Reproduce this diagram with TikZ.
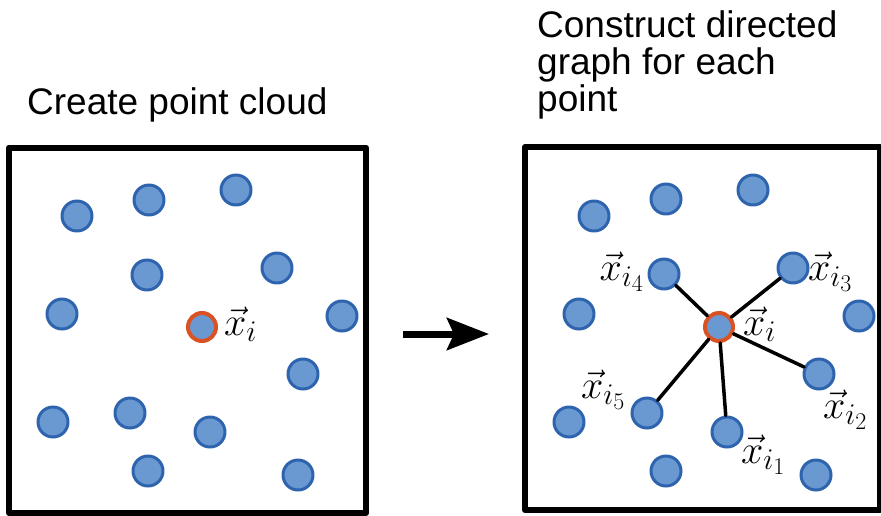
\RequirePackage{fix-cm}
\documentclass[tikz,border=0pt]{standalone}
\usepackage{fontspec}
\setmainfont{Liberation Sans}
\usetikzlibrary{arrows.meta}
\DeclareMathSizes{40}{40}{30}{24}
\definecolor{ptfill}{RGB}{106,153,210}
\definecolor{ptline}{RGB}{46,99,173}
\definecolor{ctrline}{RGB}{218,82,36}
\tikzset{
	pt/.style={circle,draw=ptline,fill=ptfill,line width=3pt,minimum size=30pt,inner sep=0pt},
	ctr/.style={pt,draw=ctrline,line width=4pt,minimum size=28pt},
	lbl/.style={font=\fontsize{40}{40}\selectfont,inner sep=0pt},
	ttl/.style={font=\fontsize{37}{37}\selectfont,inner sep=0pt,align=left,anchor=base west},
	frame/.style={line width=6pt},
	link/.style={line width=3.5pt}
}
\begin{document}
\begin{tikzpicture}[line cap=round,line join=round,x=1pt,y=-1pt]
	\useasboundingbox (0,0) rectangle (881,515); %khung hinh
	% Tieu de
	\node[ttl] (tl) at (27,114) {Create point cloud};
	\node[ttl] (tr) at (537,111) {Construct directed\\graph for each\\point}; %neo o dong cuoi
	% Hai khung
	\draw[frame,line cap=butt] (9,147.5) rectangle (366,513);
	\draw[frame,line cap=butt] (525,147) rectangle (880,510);
	% Dam may diem ben trai
	\foreach \p/\x/\y in {a1/77/216,a2/149/200,a3/236/190,a4/147/275,a5/277/268,
		a6/62/314,a7/342/316,a8/303/374,a9/53/422,a10/130/413,a11/210/432,
		a12/148/471,a13/298/475}
	\node[pt] (\p) at (\x,\y) {};
	\node[ctr] (ca) at (202,327) {};
	\node[lbl,anchor=base west] (la) at (224,335) {$\vec{x}_i$};
	% Mui ten
	\coordinate (as) at (403,334);
	\coordinate (ae) at (489,334);
	\draw[line width=7pt,line cap=butt,-{Stealth[length=42pt,width=32pt,inset=7pt]}] (as) -- (ae);
	% Do thi co huong ben phai
	\foreach \p/\x/\y in {b1/594/216,b2/666/199,b3/753/190,b6/579/314,b8/859/316,
		b10/569/422,b13/666/471,b14/816/475}
	\node[pt] (\p) at (\x,\y) {};
	\node[pt] (n1) at (727,432) {};
	\node[pt] (n2) at (819,374) {};
	\node[pt] (n3) at (793,268) {};
	\node[pt] (n4) at (664,274) {};
	\node[pt] (n5) at (647,413) {};
	\node[ctr] (cb) at (719,327) {};
	\foreach \k in {1,...,5}
	\draw[link] (cb) -- (n\k); %noi canh
	% Nhan
	\node[lbl,anchor=base west] (lb) at (743,335) {$\vec{x}_i$};
	\node[lbl,anchor=base west] (l1) at (741,463) {$\vec{x}_{i_1}$};
	\node[lbl,anchor=base west] (l2) at (823,418) {$\vec{x}_{i_2}$};
	\node[lbl,anchor=base west] (l3) at (808,280) {$\vec{x}_{i_3}$};
	\node[lbl,anchor=base east] (l4) at (644,280) {$\vec{x}_{i_4}$};
	\node[lbl,anchor=base west] (l5) at (581,398) {$\vec{x}_{i_5}$};
\end{tikzpicture}
\end{document}
